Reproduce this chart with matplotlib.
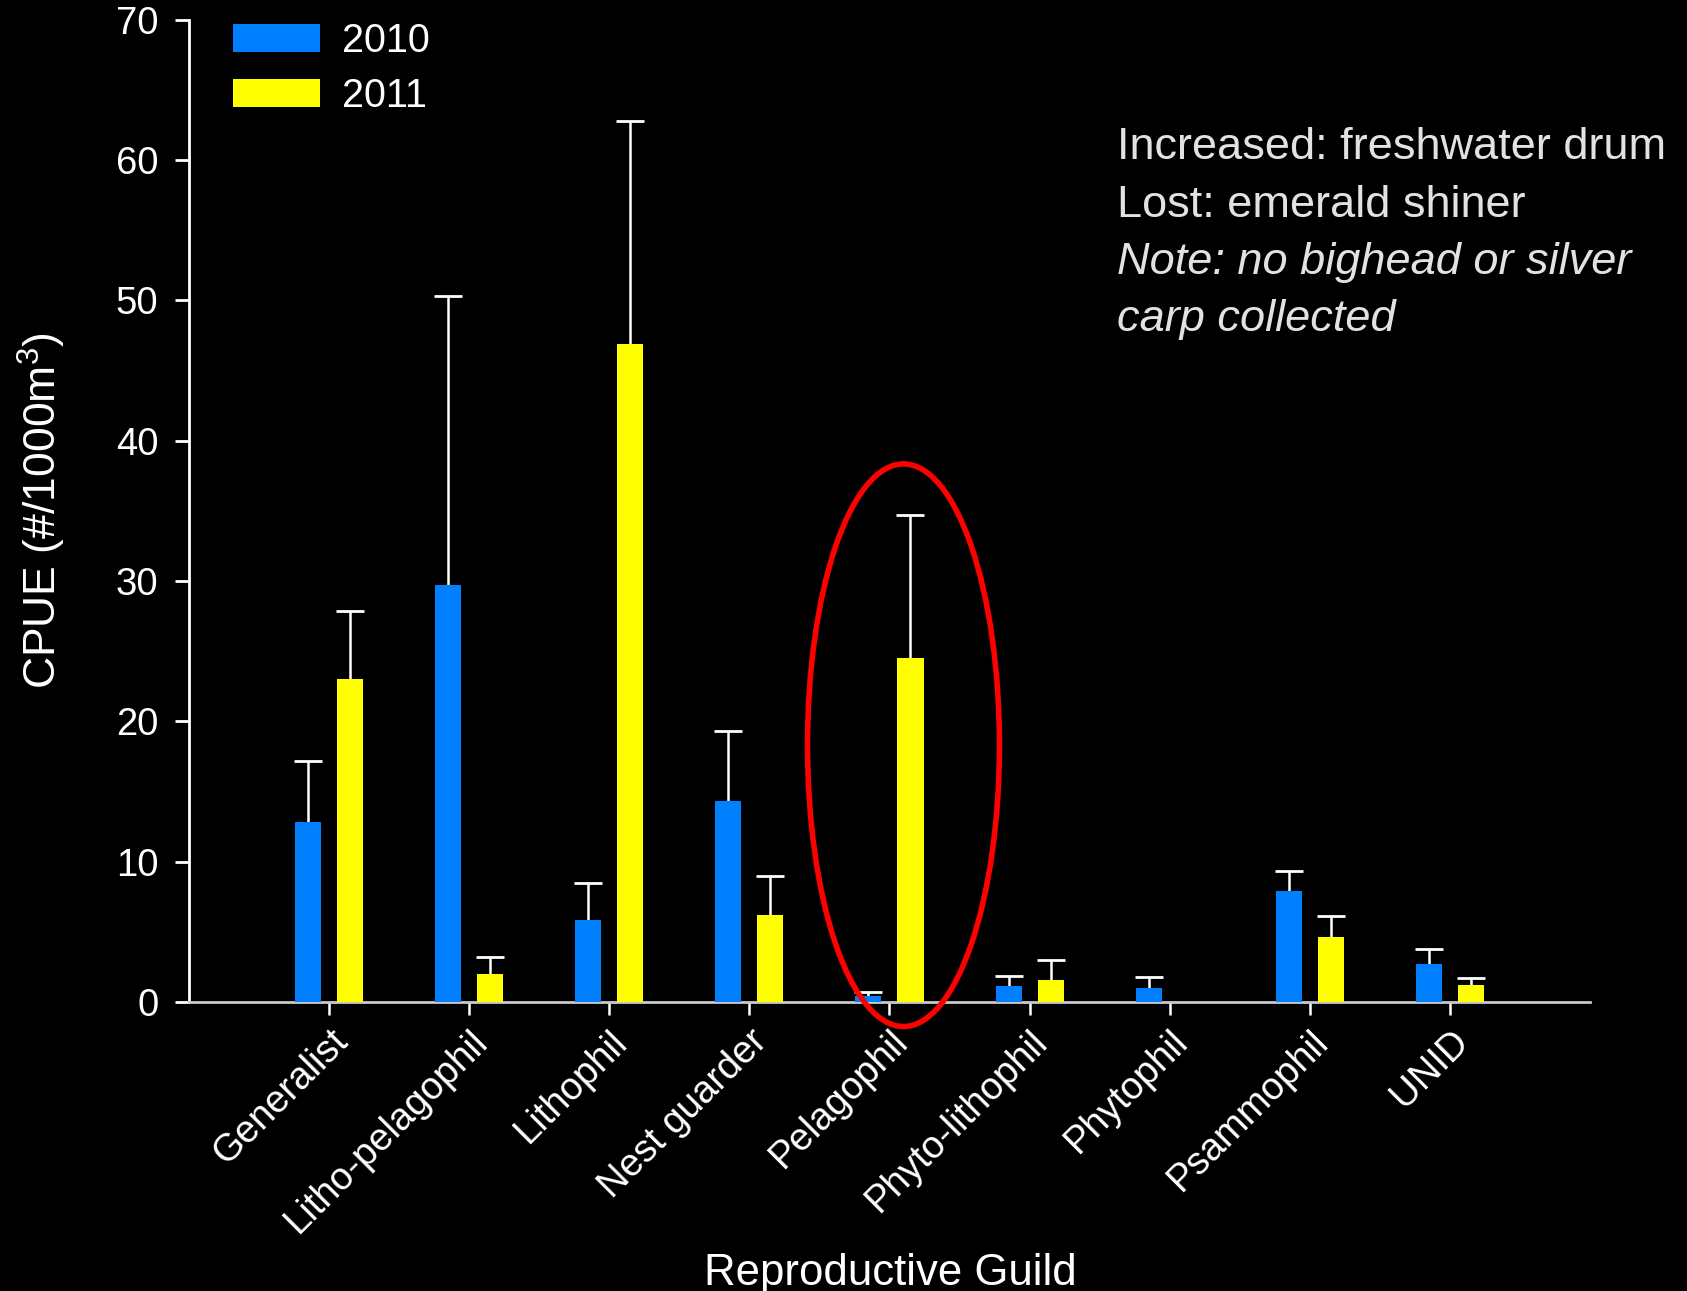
import numpy as np
import matplotlib
matplotlib.use("Agg")
import matplotlib.pyplot as plt
from matplotlib.patches import Ellipse

plt.rcParams['font.family'] = ['Liberation Sans', 'DejaVu Sans']
plt.rcParams['mathtext.fontset'] = 'custom'
plt.rcParams['mathtext.rm'] = 'Liberation Sans'
plt.rcParams['mathtext.it'] = 'Liberation Sans:italic'

# Reproductive guilds and mean CPUE (+ standard error) per year
guilds = ["Generalist", "Litho-pelagophil", "Lithophil", "Nest guarder",
          "Pelagophil", "Phyto-lithophil", "Phytophil", "Psammophil", "UNID"]
mean_2010 = np.array([12.8, 29.7, 5.85, 14.3, 0.45, 1.15, 1.0, 7.9, 2.7])
se_2010 = np.array([4.4, 20.6, 2.65, 5.0, 0.25, 0.7, 0.75, 1.4, 1.1])
mean_2011 = np.array([23.0, 2.0, 46.9, 6.2, 24.5, 1.55, 0.0, 4.65, 1.2])
se_2011 = np.array([4.9, 1.2, 15.9, 2.75, 10.2, 1.45, 0.0, 1.5, 0.5])
year_labels = ["2010", "2011"]
yticks = [0, 10, 20, 30, 40, 50, 60, 70]
notes = ["Increased: freshwater drum", "Lost: emerald shiner",
         "Note: no bighead or silver", "carp collected"]

BLUE = "#0080ff"
YELLOW = "#ffff00"

fig = plt.figure(figsize=(16.87, 12.91), dpi=100, facecolor="black")
ax = fig.add_axes([0.1120, 0.2239, 0.8305, 0.7607], facecolor="black")

x = np.arange(len(guilds))
off, bw = 0.15, 0.186
b1 = ax.bar(x - off, mean_2010, width=bw, color=BLUE, label=year_labels[0], zorder=3)
b2 = ax.bar(x + off, mean_2011, width=bw, color=YELLOW, label=year_labels[1], zorder=3)

# upper-only error bars (lower caps hidden), skipping empty groups
for xs, m, s in ((x - off, mean_2010, se_2010), (x + off, mean_2011, se_2011)):
    k = m > 0
    eb = ax.errorbar(xs[k], m[k], yerr=[np.zeros(k.sum()), s[k]], fmt="none",
                     ecolor="white", elinewidth=1.8, capsize=10, capthick=2,
                     zorder=2)
    eb[1][0].set_visible(False)

ax.set_xlim(-1.0, 9.0)
ax.set_ylim(0, 70)
ax.set_yticks(yticks)
ax.set_xticks(x)
ax.set_xticklabels(guilds, rotation=45, ha="right", va="top",
                   rotation_mode="anchor", fontsize=27.5, color="white")

for side in ("top", "right"):
    ax.spines[side].set_visible(False)
ax.spines["left"].set_color("white")
ax.spines["left"].set_linewidth(2)
ax.spines["bottom"].set_color("#c8c8c8")
ax.spines["bottom"].set_linewidth(2)
ax.tick_params(axis="y", colors="white", labelsize=27.5, length=10, width=2, pad=12)
ax.tick_params(axis="x", colors="white", length=9.5, width=1.8, pad=6)

ax.set_ylabel("CPUE (#/1000m$^3$)", color="white", fontsize=32)
ax.yaxis.set_label_coords(-0.086, 0.5)
ax.set_xlabel("Reproductive Guild", color="white", fontsize=31.5)
ax.xaxis.set_label_coords(0.5007, -0.256)

# highlight around the pelagophil group
ax.add_patch(Ellipse((4.1, 18.3), 1.37, 40.1, fill=False, edgecolor="red",
                     linewidth=4, clip_on=False, zorder=5))

leg = ax.legend(handles=[b1, b2], loc="upper left",
                bbox_to_anchor=(233 / 1687, 1 - 22 / 1291),
                bbox_transform=fig.transFigure, frameon=False, fontsize=28.5,
                handlelength=2.2, handleheight=0.69, handletextpad=0.56,
                labelspacing=0.43, borderpad=0, borderaxespad=0)
for t in leg.get_texts():
    t.set_color("white")

base_y = [159, 217, 274, 331]
for i, (line, yb) in enumerate(zip(notes, base_y)):
    fig.text(1117 / 1687, 1 - yb / 1291, line, color="#e2e2e2", fontsize=32.5,
             va="baseline", ha="left", style="italic" if i >= 2 else "normal")

fig.savefig("out.png", dpi=100, facecolor="black")
